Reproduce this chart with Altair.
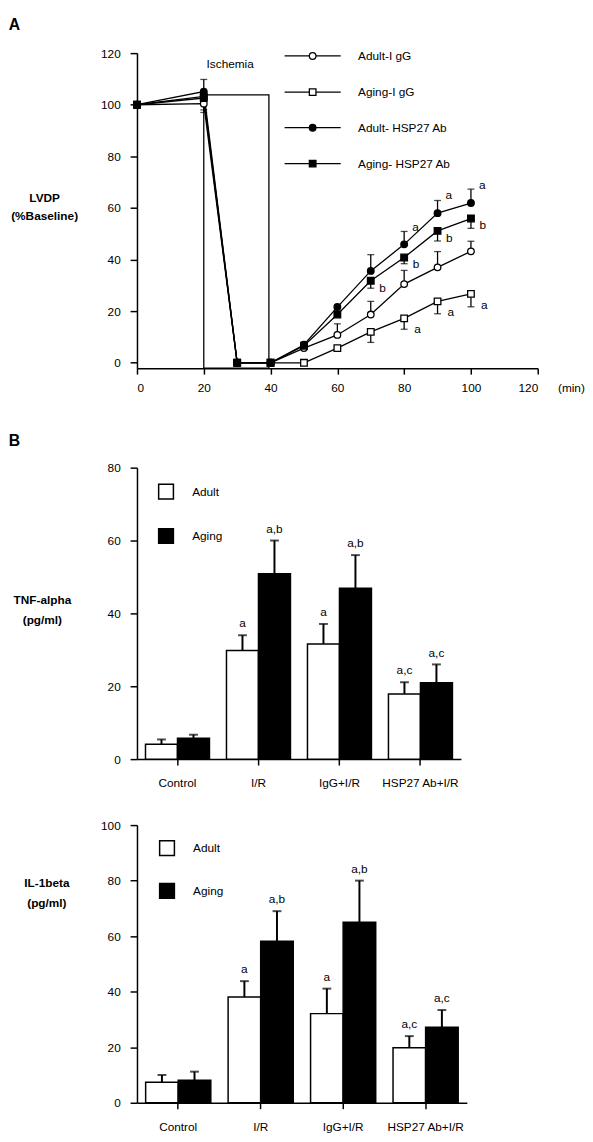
import altair as alt
import pandas as pd

FONT = "Liberation Sans"

# ---------------- Panel A data ----------------
time = [0, 20, 30, 40, 50, 60, 70, 80, 90, 100]
series_names = ["Adult-I gG", "Aging-I gG", "Adult- HSP27 Ab", "Aging- HSP27 Ab"]
adult_igg = [100, 100.4, 0, 0, 5.7, 10.8, 18.7, 30.5, 37.0, 43.2]
aging_igg = [100, 103.2, 0, 0, 0, 5.7, 12.0, 17.2, 23.8, 26.7]
adult_hsp = [100, 105.1, 0, 0, 7.0, 21.6, 35.6, 45.9, 58.0, 61.9]
aging_hsp = [100, 102.6, 0, 0, 6.6, 18.7, 31.8, 40.8, 51.1, 55.9]
# error-bar end values (None = no visible bar)
adult_igg_err = [None, 98.0, None, None, None, 15.1, 23.8, 35.8, 43.1, 47.1]
aging_igg_err = [None, None, None, None, None, None, 7.9, 13.0, 19.0, 21.7]
adult_hsp_err = [None, 109.8, None, None, None, None, 41.9, 50.9, 62.9, 67.3]
aging_hsp_err = [None, 97.0, None, None, None, None, 28.9, 38.4, 47.2, 52.1]
# significance letters (time points)
a_above_adult_hsp = [80, 90, 100]
b_beside_aging_hsp = [70, 80, 90, 100]
a_below_aging_igg = [80, 90, 100]
# ischemia box and legend (data units)
isch_start, isch_end, isch_top = 20, 39.5, 103.8
isch_label_x, isch_label_y = 27.9, 115.7
legend_rows = [118.9, 104.9, 91.1, 77.2]
legend_line = (44.2, 61.0)
legend_mark_x = 52.6
legend_text_x = 66.2

# ---------------- Panel B data ----------------
groups = ["Control", "I/R", "IgG+I/R", "HSP27 Ab+I/R"]
ages = ["Adult", "Aging"]
tnf_adult = [4.1, 29.8, 31.6, 17.9]
tnf_aging = [5.7, 50.9, 46.9, 21.0]
tnf_adult_err = [5.4, 34.0, 37.1, 21.1]
tnf_aging_err = [6.7, 60.0, 56.0, 26.0]
il_adult = [7.4, 38.1, 32.1, 19.8]
il_aging = [8.1, 58.2, 65.0, 27.2]
il_adult_err = [10.0, 43.8, 41.1, 24.0]
il_aging_err = [11.2, 69.0, 80.0, 33.4]
adult_letters = ["", "a", "a", "a,c"]
aging_letters = ["", "a,b", "a,b", "a,c"]

# ---------------- Panel A ----------------
all_vals = [adult_igg, aging_igg, adult_hsp, aging_hsp]
all_errs = [adult_igg_err, aging_igg_err, adult_hsp_err, aging_hsp_err]
rows, err_rows = [], []
for name, vals, errs in zip(series_names, all_vals, all_errs):
    for t, v, e in zip(time, vals, errs):
        rows.append({"series": name, "time": t, "value": v})
        if e is not None:
            err_rows.append({"series": name, "time": t, "value": v, "err": e})
dfA = pd.DataFrame(rows)
dfErr = pd.DataFrame(err_rows)


def letters(series, times, letter):
    vals = dict(zip(time, all_vals[series_names.index(series)]))
    return pd.DataFrame({"time": times, "value": [vals[t] for t in times], "txt": letter})


xA = alt.X("time:Q", scale=alt.Scale(domain=[0, 120], nice=False),
           axis=alt.Axis(values=[0, 20, 40, 60, 80, 100, 120], title="(min)",
                         titleX=440.7, titleY=20, titleAlign="center", titleBaseline="middle",
                         titleFontWeight="normal", titleFontSize=12, labelPadding=9, tickSize=6))
yA = alt.Y("value:Q", scale=alt.Scale(domain=[-2.1, 120], nice=False),
           axis=alt.Axis(values=[0, 20, 40, 60, 80, 100, 120], title=["LVDP", "(%Baseline)"],
                         titleAngle=0, titleX=-94.3, titleY=141.3, titleAlign="center",
                         titleBaseline="top", titleLineHeight=19, titleFontWeight="bold",
                         titleFontSize=12, labelPadding=10, tickSize=7))

shape_scale = alt.Scale(domain=series_names, range=["circle", "square", "circle", "square"])
fill_scale = alt.Scale(domain=series_names, range=["white", "white", "black", "black"])

isch_df = pd.DataFrame({"x0": [isch_start], "x1": [isch_end], "y0": [-2.1], "y1": [isch_top]})
isch = alt.Chart(isch_df).mark_rect(fill=None, stroke="black", strokeWidth=1.3).encode(
    x=alt.X("x0:Q"), x2="x1:Q", y=alt.Y("y0:Q"), y2="y1:Q")
isch_txt = alt.Chart(pd.DataFrame({"x": [isch_label_x], "y": [isch_label_y], "t": ["Ischemia"]})).mark_text(
    font=FONT, fontSize=12, color="black").encode(x="x:Q", y="y:Q", text="t:N")

lines = alt.Chart(dfA).mark_line(color="black", strokeWidth=1.3).encode(
    x=xA, y=yA, detail="series:N", order="time:Q")
err_rule = alt.Chart(dfErr).mark_rule(color="black", strokeWidth=1.3).encode(
    x="time:Q", y="value:Q", y2="err:Q")
err_cap = alt.Chart(dfErr).mark_tick(color="black", orient="horizontal", size=7, thickness=1.3).encode(
    x="time:Q", y="err:Q")
pts = alt.Chart(dfA).mark_point(filled=True, size=45, stroke="black", strokeWidth=1.3, opacity=1).encode(
    x="time:Q", y="value:Q",
    shape=alt.Shape("series:N", scale=shape_scale, legend=None),
    fill=alt.Fill("series:N", scale=fill_scale, legend=None))

txt_style = dict(font=FONT, fontSize=12, color="black")
let1 = alt.Chart(letters("Adult- HSP27 Ab", a_above_adult_hsp, "a")).mark_text(dx=11.5, dy=-18, **txt_style).encode(
    x="time:Q", y="value:Q", text="txt:N")
let2 = alt.Chart(letters("Aging- HSP27 Ab", b_beside_aging_hsp, "b")).mark_text(dx=12, dy=7, **txt_style).encode(
    x="time:Q", y="value:Q", text="txt:N")
let3 = alt.Chart(letters("Aging-I gG", a_below_aging_igg, "a")).mark_text(dx=13.5, dy=11, **txt_style).encode(
    x="time:Q", y="value:Q", text="txt:N")

leg_df = pd.DataFrame({"series": series_names, "ly": legend_rows,
                       "lx0": legend_line[0], "lx1": legend_line[1],
                       "lxm": legend_mark_x, "ltx": legend_text_x})
leg_line = alt.Chart(leg_df).mark_rule(color="black", strokeWidth=1.3).encode(
    x="lx0:Q", x2="lx1:Q", y="ly:Q")
leg_pts = alt.Chart(leg_df).mark_point(filled=True, size=45, stroke="black", strokeWidth=1.3, opacity=1).encode(
    x="lxm:Q", y="ly:Q",
    shape=alt.Shape("series:N", scale=shape_scale, legend=None),
    fill=alt.Fill("series:N", scale=fill_scale, legend=None))
leg_txt = alt.Chart(leg_df).mark_text(align="left", **txt_style).encode(
    x="ltx:Q", y="ly:Q", text="series:N")

chartA = alt.layer(lines, isch, isch_txt, err_rule, err_cap, pts, let1, let2, let3,
                   leg_line, leg_pts, leg_txt).properties(
    width=407, height=320,
    title=alt.TitleParams("A", anchor="start", dx=-130.3, offset=15, fontSize=16,
                          fontWeight="bold", font=FONT, frame="group"))


# ---------------- Panel B ----------------
def bar_panel(adult, aging, adult_err, aging_err, ymax, height, width, ytitle, title_x, title_y,
              leg_x, leg_y, leg_rowpad, panel_title=None):
    recs = []
    for i, g in enumerate(groups):
        recs.append({"group": g, "age": "Adult", "value": adult[i], "err": adult_err[i], "lbl": adult_letters[i]})
        recs.append({"group": g, "age": "Aging", "value": aging[i], "err": aging_err[i], "lbl": aging_letters[i]})
    df = pd.DataFrame(recs)
    x = alt.X("group:N", sort=groups, scale=alt.Scale(paddingInner=0.21, paddingOuter=0.105),
              axis=alt.Axis(title=None, labelAngle=0, tickSize=6, labelPadding=13))
    xo = alt.XOffset("age:N", sort=ages, scale=alt.Scale(paddingInner=0, paddingOuter=0))
    y = alt.Y("value:Q", scale=alt.Scale(domain=[0, ymax], nice=False),
              axis=alt.Axis(values=list(range(0, ymax + 1, 20)), title=ytitle, titleAngle=0,
                            titleX=title_x, titleY=title_y, titleAlign="center", titleBaseline="top",
                            titleLineHeight=21, titleFontWeight="bold", titleFontSize=12,
                            labelPadding=10, tickSize=7))
    base = alt.Chart(df)
    bars = base.mark_bar(stroke="black", strokeWidth=1.5).encode(
        x=x, xOffset=xo, y=y,
        fill=alt.Fill("age:N", scale=alt.Scale(domain=ages, range=["white", "black"]),
                      legend=alt.Legend(title=None, orient="none", legendX=leg_x, legendY=leg_y,
                                        symbolType="square", symbolSize=225, symbolStrokeColor="black",
                                        symbolStrokeWidth=1.5, symbolOpacity=1, labelFontSize=12,
                                        labelFont=FONT, labelOffset=18, rowPadding=leg_rowpad,
                                        padding=0, labelColor="black")))
    rule = base.mark_rule(color="black", strokeWidth=2).encode(
        x=x, xOffset=xo, y="value:Q", y2="err:Q")
    cap = base.mark_tick(color="black", orient="horizontal", size=9, thickness=2).encode(
        x=x, xOffset=xo, y="err:Q")
    lbl = base.mark_text(dy=-12, font=FONT, fontSize=12, color="black").encode(
        x=x, xOffset=xo, y="err:Q", text="lbl:N")
    props = dict(width=width, height=height)
    if panel_title:
        props["title"] = alt.TitleParams(panel_title, anchor="start", dx=-130.3, offset=13, fontSize=16,
                                         fontWeight="bold", font=FONT, frame="group")
    return alt.layer(rule, cap, bars, lbl).properties(**props)


chartB1 = bar_panel(tnf_adult, tnf_aging, tnf_adult_err, tnf_aging_err, 80, 296, 329,
                    ["TNF-alpha", "(pg/ml)"], -96.6, 128.7, 21, 15.9, 24, panel_title="B")
chartB2 = bar_panel(il_adult, il_aging, il_adult_err, il_aging_err, 100, 282, 335,
                    ["IL-1beta", "(pg/ml)"], -92, 53, 22, 14.8, 22.4)

indep = dict(x="independent", y="independent", xOffset="independent",
             fill="independent", shape="independent")
inner = alt.vconcat(chartB1, chartB2, spacing=67, bounds="flush").resolve_scale(**indep).resolve_legend(
    fill="independent")
chart = alt.vconcat(chartA, inner, spacing=101, bounds="flush").resolve_scale(**indep).resolve_legend(
    fill="independent", shape="independent").properties(padding=0).configure(
    font=FONT).configure_view(stroke=None).configure_axis(
    grid=False, domainColor="black", tickColor="black", labelColor="black", titleColor="black",
    domainWidth=1.5, tickWidth=1.5, labelFont=FONT, labelFontSize=12, titleFont=FONT)

chart.save("out.html", embed_options={"renderer": "svg", "actions": False})
